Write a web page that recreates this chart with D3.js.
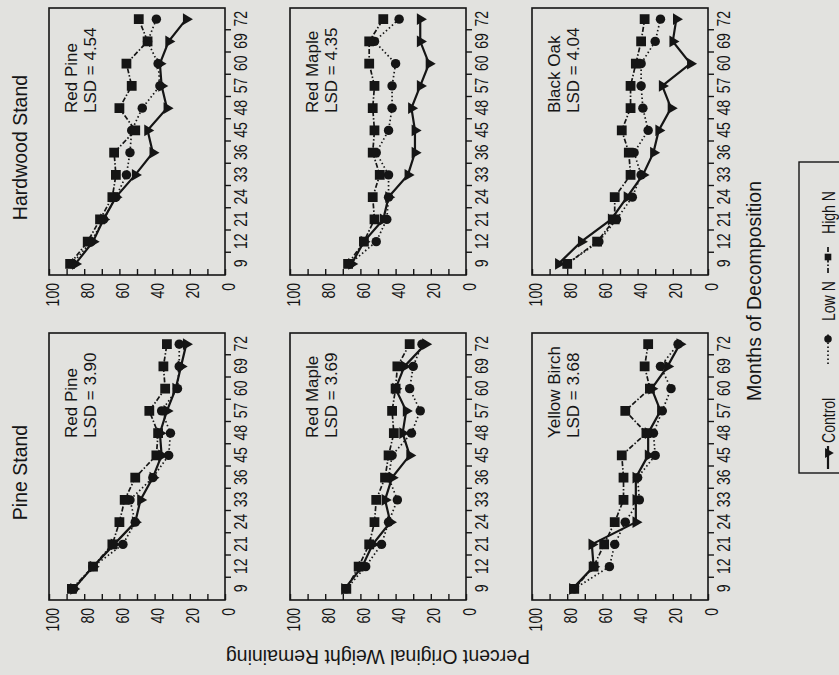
<!DOCTYPE html>
<html>
<head>
<meta charset="utf-8">
<script src="https://cdn.jsdelivr.net/npm/d3@7"></script>
<style>
body { margin: 0; background: #e2e2df; }
svg text { font-family: "Liberation Sans", Arial, sans-serif; fill: #151515; }
</style>
</head>
<body>
<div id="chart"></div>
<script>
// months of decomposition (evenly spaced categories)
var months = [9, 12, 21, 24, 33, 36, 45, 48, 57, 60, 69, 72];
var treatments = ["Control", "Low N", "High N"];
var stands = ["Pine Stand", "Hardwood Stand"];
var pineSpecies = ["Red Pine", "Red Maple", "Yellow Birch"];
var hardwoodSpecies = ["Red Pine", "Red Maple", "Black Oak"];
var pineLSD = [3.90, 3.69, 3.68];
var hardwoodLSD = [4.54, 4.35, 4.04];
var weightTicks = [0, 10, 20, 30, 40, 50, 60, 70, 80, 90, 100];

// percent original weight remaining, Pine Stand
var pineRedPineControl  = [86, 75, 63, 51, 48, 41, 36, 37, 33, 28, 25, 22];
var pineRedPineLowN     = [86, 75, 58, 51, 54, 41, 32, 31, 36, 27, 26, 26];
var pineRedPineHighN    = [87, 75, 64, 60, 57, 51, 39, 38, 43, 34, 35, 33];
var pineRedMapleControl = [69, 59, 53, 43, 46, 42, 32, 36, 34, 40, 35, 23];
var pineRedMapleLowN    = [68, 57, 48, 44, 39, 44, 42, 31, 26, 32, 30, 25];
var pineRedMapleHighN   = [68, 61, 55, 52, 51, 46, 44, 41, 42, 40, 39, 32];
var pineBirchControl    = [77, 65, 66, 41, 41, 41, 34, 34, 27, 32, 23, 16];
var pineBirchLowN       = [76, 56, 53, 47, 39, 40, 30, 31, 26, 21, 27, 17];
var pineBirchHighN      = [76, 65, 59, 53, 48, 48, 49, 35, 47, 33, 36, 34];

// percent original weight remaining, Hardwood Stand
var hwRedPineControl  = [85, 75, 69, 62, 51, 41, 44, 33, 36, 37, 32, 22];
var hwRedPineLowN     = [87, 76, 69, 62, 56, 54, 53, 47, 37, 38, 44, 39];
var hwRedPineHighN    = [88, 78, 71, 64, 62, 63, 51, 60, 53, 56, 44, 49];
var hwRedMapleControl = [65, 58, 47, 44, 33, 29, 29, 31, 26, 21, 26, 26];
var hwRedMapleLowN    = [66, 51, 45, 44, 44, 51, 44, 42, 42, 40, 52, 38];
var hwRedMapleHighN   = [67, 58, 52, 53, 49, 53, 52, 53, 52, 55, 55, 47];
var hwBlackOakControl = [85, 72, 55, 46, 37, 31, 28, 21, 26, 10, 20, 18];
var hwBlackOakLowN    = [80, 62, 52, 43, 38, 42, 34, 37, 38, 38, 30, 27];
var hwBlackOakHighN   = [80, 63, 53, 53, 44, 45, 49, 44, 44, 41, 38, 36];

// panels: [stand][row] -> three series
var panelSeries = [
    [[pineRedPineControl, pineRedPineLowN, pineRedPineHighN],
     [pineRedMapleControl, pineRedMapleLowN, pineRedMapleHighN],
     [pineBirchControl, pineBirchLowN, pineBirchHighN]],
    [[hwRedPineControl, hwRedPineLowN, hwRedPineHighN],
     [hwRedMapleControl, hwRedMapleLowN, hwRedMapleHighN],
     [hwBlackOakControl, hwBlackOakLowN, hwBlackOakHighN]]
];
var panelSpecies = [pineSpecies, hardwoodSpecies];
var panelLSD = [pineLSD, hardwoodLSD];

var svgWidth = 839;
var svgHeight = 675;

// the figure is laid out upright and then turned a quarter turn
var panelW = 267, panelH = 176;
var colX = [75, 400];
var rowY = [49, 290, 532];
var squeeze = 0.78;

var svg = d3.select("#chart")
    .append("svg")
    .attr("width", svgWidth)
    .attr("height", svgHeight);

var fig = svg.append("g")
    .attr("transform", `translate(0, ${svgHeight}) rotate(-90)`);

var xScale = d3.scalePoint().domain(months).range([0, panelW]).padding(0.5);
var gapScale = d3.scaleLinear().domain([0, months.length]).range([0, panelW]);
var yScale = d3.scaleLinear().domain([0, 100]).range([panelH, 0]);

var lineStyles = [
    { dash: null, width: 2.2 },
    { dash: "1.5,2.5", width: 1.7 },
    { dash: "5,2,1.5,2", width: 1.7 }
];
var symbols = [
    d3.symbol(d3.symbolTriangle).size(58),
    d3.symbol(d3.symbolCircle).size(70),
    d3.symbol(d3.symbolSquare).size(96)
];
var symbolRotate = [180, 0, 0];

var line = d3.line()
    .x(d => xScale(d.month))
    .y(d => yScale(d.value));

stands.forEach(function (stand, s) {
    fig.append("text")
        .attr("x", colX[s] + panelW / 2 - 6)
        .attr("y", 27)
        .attr("text-anchor", "middle")
        .attr("font-size", 19.5)
        .text(stand);

    panelSeries[s].forEach(function (series, r) {
        var panel = fig.append("g")
            .attr("transform", `translate(${colX[s]}, ${rowY[r]})`);

        panel.append("rect")
            .attr("width", panelW)
            .attr("height", panelH)
            .attr("fill", "none")
            .attr("stroke", "#151515")
            .attr("stroke-width", 1.6);

        // weight axis, inward ticks every 10, labels every 20
        var leftAxis = d3.axisLeft(yScale)
            .tickValues(weightTicks)
            .tickSizeInner(-6)
            .tickSizeOuter(0)
            .tickPadding(8)
            .tickFormat(d => d % 20 === 0 ? d : "");
        var yAxis = panel.append("g").call(leftAxis);
        yAxis.select(".domain").remove();
        yAxis.selectAll("line").attr("stroke", "#151515").attr("stroke-width", 1.4);
        yAxis.selectAll("text")
            .attr("font-size", 18)
            .attr("font-family", null)
            .attr("x", -8 / squeeze)
            .attr("dy", "0.5em")
            .attr("transform", `scale(${squeeze},1)`);

        // month labels
        var bottomAxis = d3.axisBottom(xScale).tickSize(0).tickPadding(9);
        var xAxis = panel.append("g")
            .attr("transform", `translate(0, ${panelH})`)
            .call(bottomAxis);
        xAxis.select(".domain").remove();
        xAxis.selectAll("text")
            .attr("font-size", 18)
            .attr("font-family", null)
            .attr("transform", `scale(${squeeze},1)`);

        // tick marks sit between the months
        var gapAxis = d3.axisBottom(gapScale)
            .tickValues(d3.range(1, months.length))
            .tickSize(6)
            .tickFormat("");
        var gAxis = panel.append("g")
            .attr("transform", `translate(0, ${panelH})`)
            .call(gapAxis);
        gAxis.select(".domain").remove();
        gAxis.selectAll("line").attr("stroke", "#151515").attr("stroke-width", 1.4);

        // species and LSD note
        var note = panel.append("g")
            .attr("transform", "translate(162, 0)");
        note.append("text")
            .attr("y", 28)
            .attr("font-size", 17)
            .text(panelSpecies[s][r]);
        note.append("text")
            .attr("y", 47)
            .attr("font-size", 17)
            .text("LSD = " + d3.format(".2f")(panelLSD[s][r]));

        series.forEach(function (values, t) {
            var pts = values.map((v, i) => ({ month: months[i], value: v }));
            panel.append("path")
                .datum(pts)
                .attr("fill", "none")
                .attr("stroke", "#151515")
                .attr("stroke-width", lineStyles[t].width)
                .attr("stroke-dasharray", lineStyles[t].dash)
                .attr("d", line);
        });
        series.forEach(function (values, t) {
            var pts = values.map((v, i) => ({ month: months[i], value: v }));
            panel.selectAll(".m" + t)
                .data(pts)
                .enter()
                .append("path")
                .attr("class", "m" + t)
                .attr("fill", "#151515")
                .attr("d", symbols[t])
                .attr("transform", d => `translate(${xScale(d.month)}, ${yScale(d.value)}) rotate(${symbolRotate[t]})`);
        });
    });
});

// axis titles
fig.append("text")
    .attr("x", 384)
    .attr("y", 761)
    .attr("text-anchor", "middle")
    .attr("font-size", 19.5)
    .text("Months of Decomposition");

fig.append("text")
    .attr("transform", "translate(25, 378) rotate(-90)")
    .attr("text-anchor", "middle")
    .attr("font-size", 19.5)
    .text("Percent Original Weight Remaining");

// legend
var legendPos = [
    { x1: 206, x2: 229, mark: 222, text: 232 },
    { x1: 311, x2: 343, mark: 336, text: 354 },
    { x1: 402, x2: 430, mark: 418, text: 441 }
];
var legend = fig.append("g");
legend.append("rect")
    .attr("x", 202)
    .attr("y", 799)
    .attr("width", 311)
    .attr("height", 60)
    .attr("fill", "none")
    .attr("stroke", "#151515")
    .attr("stroke-width", 1.4);

treatments.forEach(function (name, t) {
    var p = legendPos[t];
    legend.append("line")
        .attr("x1", p.x1).attr("x2", p.x2)
        .attr("y1", 828).attr("y2", 828)
        .attr("stroke", "#151515")
        .attr("stroke-width", lineStyles[t].width)
        .attr("stroke-dasharray", lineStyles[t].dash);
    legend.append("path")
        .attr("fill", "#151515")
        .attr("d", d3.symbol(t === 0 ? d3.symbolTriangle : t === 1 ? d3.symbolCircle : d3.symbolSquare).size(44))
        .attr("transform", `translate(${p.mark}, 828) rotate(${symbolRotate[t]})`);
    legend.append("text")
        .attr("transform", `translate(${p.text}, 835) scale(${squeeze},1)`)
        .attr("font-size", 18)
        .text(name);
});
</script>
</body>
</html>
